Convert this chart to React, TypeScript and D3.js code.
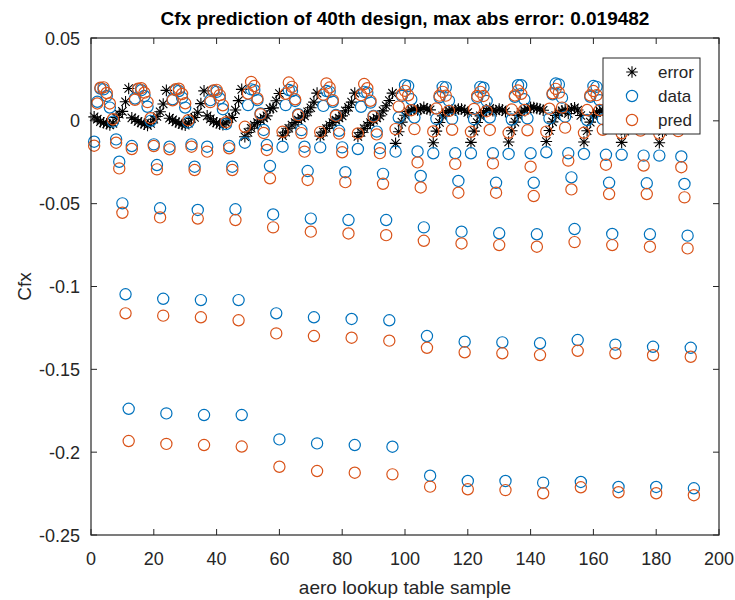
import React from 'react';
import * as d3 from 'd3';

// error = data - pred, 16 groups of 12 samples
const errorValues = [
  0.0024, 0.0010, -0.0005, -0.0012, -0.0018, -0.0025, -0.0015, 0.0020, 0.0040, 0.0057, 0.0115, 0.019482,
  0.0018, 0.0008, -0.0004, -0.0012, -0.0020, -0.0028, -0.0016, 0.0010, 0.0026, 0.0055, 0.0102, 0.0184,
  0.0016, 0.0006, -0.0006, -0.0014, -0.0022, -0.0026, -0.0014, 0.0014, 0.0020, 0.0052, 0.0104, 0.0181,
  0.0030, 0.0012, -0.0004, -0.0012, -0.0020, -0.0024, -0.0012, 0.0014, 0.0020, 0.0065, 0.0122, 0.0190,
  -0.0096, -0.0070, -0.0045, -0.0025, -0.0010, 0.0005, 0.0018, 0.0030, 0.0074, 0.0078, 0.0121, 0.0165,
  -0.0090, -0.0068, -0.0045, -0.0025, -0.0010, 0.0005, 0.0018, 0.0030, 0.0054, 0.0079, 0.0113, 0.0167,
  -0.0092, -0.0068, -0.0046, -0.0026, -0.0010, 0.0004, 0.0017, 0.0030, 0.0060, 0.0081, 0.0113, 0.0167,
  -0.0094, -0.0070, -0.0047, -0.0027, -0.0011, 0.0004, 0.0017, 0.0030, 0.0060, 0.0091, 0.0123, 0.0167,
  -0.0136, -0.0066, -0.0008, 0.0034, 0.0056, 0.0066, 0.0070, 0.0066, 0.0069, 0.0081, 0.0071, 0.0066,
  -0.0132, -0.0062, -0.0010, 0.0030, 0.0050, 0.0062, 0.0066, 0.0064, 0.0071, 0.0071, 0.0064, 0.0050,
  -0.0130, -0.0062, -0.0010, 0.0030, 0.0050, 0.0062, 0.0075, 0.0061, 0.0060, 0.0071, 0.0066, 0.0055,
  -0.0128, -0.0060, -0.0008, 0.0032, 0.0052, 0.0064, 0.0072, 0.0081, 0.0080, 0.0075, 0.0071, 0.0064,
  -0.0125, -0.0058, -0.0006, 0.0032, 0.0050, 0.0060, 0.0066, 0.0044, 0.0073, 0.0079, 0.0065, 0.0032,
  -0.0128, -0.0060, -0.0008, 0.0030, 0.0050, 0.0060, 0.0064, 0.0060, 0.0068, 0.0067, 0.0052, 0.0032,
  -0.0130, -0.0062, -0.0010, 0.0028, 0.0048, 0.0060, 0.0064, 0.0060, 0.0065, 0.0075, 0.0051, 0.0038,
  -0.0132, -0.0064, -0.0012, 0.0026, 0.0046, 0.0058, 0.0062, 0.0065, 0.0081, 0.0077, 0.0054, 0.0042,
];

const dataValues = [
  -0.0126, 0.0115, 0.0195, 0.0190, 0.0150, 0.0080, -0.0005, -0.0112, -0.0247, -0.0498, -0.1047, -0.1738,
  -0.0152, 0.0135, 0.0190, 0.0185, 0.0150, 0.0085, 0.0000, -0.0142, -0.0267, -0.0528, -0.1074, -0.1766,
  -0.0156, 0.0130, 0.0185, 0.0180, 0.0140, 0.0080, -0.0010, -0.0142, -0.0277, -0.0538, -0.1082, -0.1776,
  -0.0156, 0.0125, 0.0180, 0.0175, 0.0135, 0.0070, -0.0020, -0.0152, -0.0277, -0.0534, -0.1082, -0.1776,
  -0.0132, 0.0095, 0.0190, 0.0185, 0.0125, 0.0045, -0.0055, -0.0146, -0.0273, -0.0565, -0.1162, -0.1923,
  -0.0156, 0.0095, 0.0186, 0.0180, 0.0120, 0.0040, -0.0056, -0.0156, -0.0303, -0.0590, -0.1186, -0.1947,
  -0.0160, 0.0090, 0.0180, 0.0175, 0.0115, 0.0035, -0.0060, -0.0160, -0.0310, -0.0599, -0.1196, -0.1957,
  -0.0170, 0.0085, 0.0175, 0.0170, 0.0110, 0.0030, -0.0065, -0.0165, -0.0320, -0.0599, -0.1204, -0.1967,
  -0.0186, 0.0020, 0.0150, 0.0215, 0.0210, 0.0130, 0.0020, -0.0185, -0.0333, -0.0643, -0.1299, -0.2142,
  -0.0196, 0.0012, 0.0142, 0.0205, 0.0202, 0.0122, 0.0012, -0.0196, -0.0363, -0.0669, -0.1333, -0.2174,
  -0.0196, 0.0010, 0.0140, 0.0205, 0.0200, 0.0120, 0.0020, -0.0196, -0.0374, -0.0679, -0.1337, -0.2174,
  -0.0200, 0.0008, 0.0145, 0.0215, 0.0215, 0.0130, 0.0015, -0.0196, -0.0374, -0.0685, -0.1343, -0.2184,
  -0.0190, 0.0015, 0.0160, 0.0225, 0.0220, 0.0140, 0.0025, -0.0196, -0.0341, -0.0653, -0.1323, -0.2180,
  -0.0200, 0.0005, 0.0145, 0.0210, 0.0205, 0.0125, 0.0010, -0.0205, -0.0374, -0.0683, -0.1351, -0.2210,
  -0.0205, 0.0000, 0.0140, 0.0205, 0.0200, 0.0120, 0.0005, -0.0210, -0.0377, -0.0685, -0.1364, -0.2210,
  -0.0210, -0.0005, 0.0135, 0.0200, 0.0195, 0.0115, 0.0000, -0.0215, -0.0381, -0.0693, -0.1370, -0.2218,
];

const predValues = [
  -0.0150, 0.0105, 0.0200, 0.0202, 0.0168, 0.0105, 0.0010, -0.0132, -0.0287, -0.0555, -0.1162, -0.193282,
  -0.0170, 0.0127, 0.0194, 0.0197, 0.0170, 0.0113, 0.0016, -0.0152, -0.0293, -0.0583, -0.1176, -0.1950,
  -0.0172, 0.0124, 0.0191, 0.0194, 0.0162, 0.0106, 0.0004, -0.0156, -0.0297, -0.0590, -0.1186, -0.1957,
  -0.0186, 0.0113, 0.0184, 0.0187, 0.0155, 0.0094, -0.0008, -0.0166, -0.0297, -0.0599, -0.1204, -0.1966,
  -0.0036, 0.0165, 0.0235, 0.0210, 0.0135, 0.0040, -0.0073, -0.0176, -0.0347, -0.0643, -0.1283, -0.2088,
  -0.0066, 0.0163, 0.0231, 0.0205, 0.0130, 0.0035, -0.0074, -0.0186, -0.0357, -0.0669, -0.1299, -0.2114,
  -0.0068, 0.0158, 0.0226, 0.0201, 0.0125, 0.0031, -0.0077, -0.0190, -0.0370, -0.0680, -0.1309, -0.2124,
  -0.0076, 0.0155, 0.0222, 0.0197, 0.0121, 0.0026, -0.0082, -0.0195, -0.0380, -0.0690, -0.1327, -0.2134,
  -0.0050, 0.0086, 0.0158, 0.0181, 0.0154, 0.0064, -0.0050, -0.0251, -0.0402, -0.0724, -0.1370, -0.2208,
  -0.0064, 0.0074, 0.0152, 0.0175, 0.0152, 0.0060, -0.0054, -0.0260, -0.0434, -0.0740, -0.1397, -0.2224,
  -0.0066, 0.0072, 0.0150, 0.0175, 0.0150, 0.0058, -0.0055, -0.0257, -0.0434, -0.0750, -0.1403, -0.2229,
  -0.0072, 0.0068, 0.0153, 0.0183, 0.0163, 0.0066, -0.0057, -0.0277, -0.0454, -0.0760, -0.1414, -0.2248,
  -0.0065, 0.0073, 0.0166, 0.0193, 0.0170, 0.0080, -0.0041, -0.0240, -0.0414, -0.0732, -0.1388, -0.2212,
  -0.0072, 0.0065, 0.0153, 0.0180, 0.0155, 0.0065, -0.0054, -0.0265, -0.0442, -0.0750, -0.1403, -0.2242,
  -0.0075, 0.0062, 0.0150, 0.0177, 0.0152, 0.0060, -0.0059, -0.0270, -0.0442, -0.0760, -0.1415, -0.2248,
  -0.0078, 0.0059, 0.0147, 0.0174, 0.0149, 0.0057, -0.0062, -0.0280, -0.0462, -0.0770, -0.1424, -0.2260,
];

const xTicks = [0, 20, 40, 60, 80, 100, 120, 140, 160, 180, 200];
const yTicks = [0.05, 0, -0.05, -0.1, -0.15, -0.2, -0.25];
const yTickLabels = ['0.05', '0', '-0.05', '-0.1', '-0.15', '-0.2', '-0.25'];
const legendLabels = ['error', 'data', 'pred'];
const titleText = 'Cfx prediction of 40th design, max abs error: 0.019482';
const xLabelText = 'aero lookup table sample';
const yLabelText = 'Cfx';

const BLUE = '#0072BD';
const ORANGE = '#D95319';
const AXIS = '#262626';
const FONT = '"Liberation Sans", Arial, Helvetica, sans-serif';

function starPath(r: number) {
  const d = r * 0.72;
  return `M${-r},0H${r}M0,${-r}V${r}M${-d},${-d}L${d},${d}M${-d},${d}L${d},${-d}`;
}

export default function App() {
  const W = 735;
  const H = 600;
  const left = 91, right = 719, top = 38, bottom = 535;
  const x = d3.scaleLinear().domain([0, 200]).range([left, right]);
  const y = d3.scaleLinear().domain([-0.25, 0.05]).range([bottom, top]);
  const tickLen = 6;
  const r = 5.6;
  const star = starPath(5.8);

  return (
    <svg width={W} height={H} style={{ position: 'absolute', left: 0, top: 0, background: '#fff' }}
      fontFamily={FONT}>
      <rect x={0} y={0} width={W} height={H} fill="#fff" />
      <rect x={left} y={top} width={right - left} height={bottom - top} fill="#fff" />
      {xTicks.map((t) => (
        <g key={'xt' + t}>
          <line x1={x(t)} x2={x(t)} y1={bottom} y2={bottom - tickLen} stroke={AXIS} strokeWidth={1} />
          <line x1={x(t)} x2={x(t)} y1={top} y2={top + tickLen} stroke={AXIS} strokeWidth={1} />
          <text x={x(t)} y={565} textAnchor="middle" fontSize={18} fill={AXIS}>{t}</text>
        </g>
      ))}
      {yTicks.map((t, i) => (
        <g key={'yt' + i}>
          <line x1={left} x2={left + tickLen} y1={y(t)} y2={y(t)} stroke={AXIS} strokeWidth={1} />
          <line x1={right} x2={right - tickLen} y1={y(t)} y2={y(t)} stroke={AXIS} strokeWidth={1} />
          <text x={80} y={y(t) + 6.5} textAnchor="end" fontSize={18} fill={AXIS}>{yTickLabels[i]}</text>
        </g>
      ))}
      {errorValues.map((v, i) => (
        <path key={'e' + i} d={star} transform={`translate(${x(i + 1)},${y(v)})`} stroke="#000" strokeWidth={1.1} fill="none" />
      ))}
      {dataValues.map((v, i) => (
        <circle key={'d' + i} cx={x(i + 1)} cy={y(v)} r={r} fill="none" stroke={BLUE} strokeWidth={1.2} />
      ))}
      {predValues.map((v, i) => (
        <circle key={'p' + i} cx={x(i + 1)} cy={y(v)} r={r} fill="none" stroke={ORANGE} strokeWidth={1.2} />
      ))}
      <rect x={left} y={top} width={right - left} height={bottom - top} fill="none" stroke={AXIS} strokeWidth={1.2} />
      <g>
        <rect x={603} y={58} width={97} height={76} fill="#fff" stroke={AXIS} strokeWidth={1} />
        {legendLabels.map((lab, i) => {
          const ly = 72 + i * 24;
          return (
            <g key={lab}>
              {i === 0 ? (
                <path d={star} transform={`translate(632,${ly})`} stroke="#000" strokeWidth={1.1} fill="none" />
              ) : (
                <circle cx={632} cy={ly} r={r} fill="none" stroke={i === 1 ? BLUE : ORANGE} strokeWidth={1.2} />
              )}
              <text x={658} y={ly + 6} fontSize={17} fill={AXIS}>{lab}</text>
            </g>
          );
        })}
      </g>
      <text x={(left + right) / 2} y={25} textAnchor="middle" fontSize={19} fontWeight="bold" fill="#000">{titleText}</text>
      <text x={(left + right) / 2} y={594} textAnchor="middle" fontSize={19} fill={AXIS}>{xLabelText}</text>
      <text transform={`translate(31,${(top + bottom) / 2}) rotate(-90)`} textAnchor="middle" fontSize={19} fill={AXIS}>{yLabelText}</text>
    </svg>
  );
}
